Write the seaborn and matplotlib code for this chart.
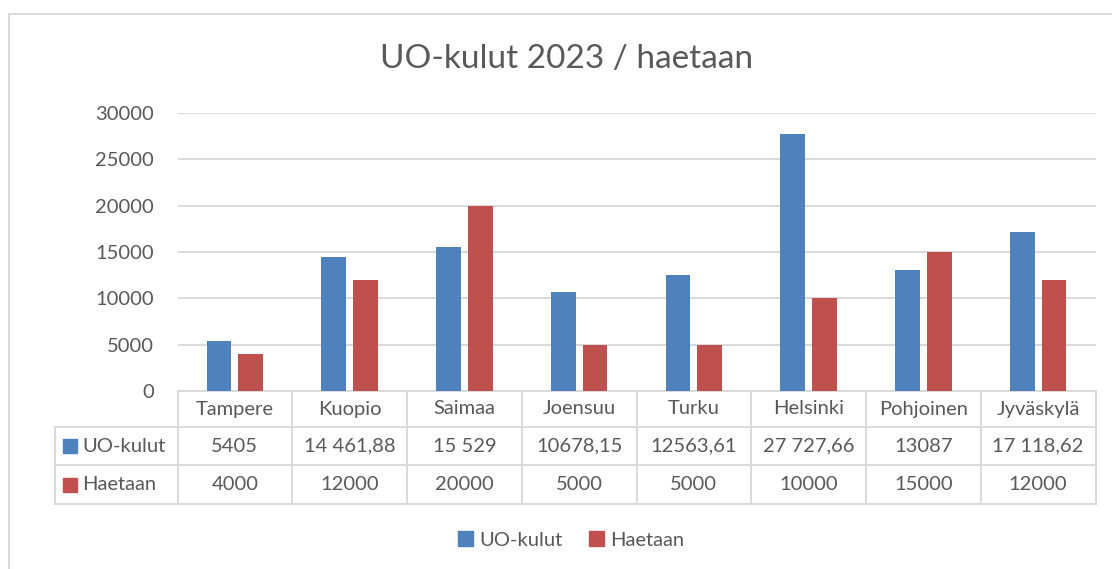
import pandas as pd
import seaborn as sns
import matplotlib.pyplot as plt
from matplotlib.patches import Rectangle
from matplotlib.lines import Line2D
from matplotlib.transforms import blended_transform_factory

# data as shown in the chart's table
kaupungit = ['Tampere', 'Kuopio', 'Saimaa', 'Joensuu', 'Turku', 'Helsinki', 'Pohjoinen', 'Jyväskylä']
uo_kulut_txt = ['5405', '14 461,88', '15 529', '10678,15', '12563,61', '27 727,66', '13087', '17 118,62']
haetaan_txt = ['4000', '12000', '20000', '5000', '5000', '10000', '15000', '12000']
sarjat = ['UO-kulut', 'Haetaan']
y_ticks = [0, 5000, 10000, 15000, 20000, 25000, 30000]

varit = {'UO-kulut': '#4F81BD', 'Haetaan': '#C0504D'}
teksti = '#595959'
viiva = '#D9D9D9'


def to_num(s):
    return float(s.replace(' ', '').replace(',', '.'))


df = pd.DataFrame({
    'kaupunki': kaupungit * 2,
    'sarja': [sarjat[0]] * len(kaupungit) + [sarjat[1]] * len(kaupungit),
    'arvo': [to_num(s) for s in uo_kulut_txt] + [to_num(s) for s in haetaan_txt],
})

sns.set_style('white')
plt.rcParams['font.family'] = ['Lato', 'DejaVu Sans']

W, H = 1112, 569
fig = plt.figure(figsize=(W / 100, H / 100), dpi=100)
ax = fig.add_axes([177.5 / W, 1 - 391 / H, 918 / W, 278 / H])

sns.barplot(data=df, x='kaupunki', y='arvo', hue='sarja', order=kaupungit,
            hue_order=sarjat, palette=varit, saturation=1, width=0.555, gap=0.22,
            linewidth=0, legend=False, ax=ax, zorder=3)

ax.set_xlim(-0.5, len(kaupungit) - 0.5)
ax.set_ylim(0, 30000)
ax.set_yticks(y_ticks)
ax.set_yticklabels([str(t) for t in y_ticks])
ax.yaxis.grid(True, color=viiva, lw=1.4, zorder=0)
ax.tick_params(axis='y', length=0, pad=17, labelsize=14.5, labelcolor=teksti)
ax.set_xticks([])
ax.set_xlabel('')
ax.set_ylabel('')
for s in ax.spines.values():
    s.set_visible(False)

fig.text(567 / W, 1 - 59 / H, 'UO-kulut 2023 / haetaan', ha='center', va='center',
         fontsize=24, color=teksti)

# data table under the plot
tr = blended_transform_factory(ax.transData, fig.transFigure)
n = len(kaupungit)
rivit = [391, 427, 465, 504]
lab_left = -0.5 - (177.5 - 54.6) / 114.75

ax.add_line(Line2D([-0.5, n - 0.5], [1 - rivit[0] / H] * 2, transform=tr,
                   color=viiva, lw=1.4, clip_on=False))
for r in rivit[1:]:
    ax.add_line(Line2D([lab_left, n - 0.5], [1 - r / H] * 2, transform=tr,
                       color=viiva, lw=1.4, clip_on=False))
for i in range(n + 1):
    ax.add_line(Line2D([i - 0.5] * 2, [1 - rivit[0] / H, 1 - rivit[-1] / H], transform=tr,
                       color=viiva, lw=1.4, clip_on=False))
ax.add_line(Line2D([lab_left] * 2, [1 - rivit[1] / H, 1 - rivit[-1] / H], transform=tr,
                   color=viiva, lw=1.4, clip_on=False))

for i, k in enumerate(kaupungit):
    ax.text(i, 1 - 409 / H, k, transform=tr, ha='center', va='center',
            fontsize=14.5, color=teksti)
for j, (nimi, arvot) in enumerate(zip(sarjat, [uo_kulut_txt, haetaan_txt])):
    yc = 1 - (rivit[j + 1] + rivit[j + 2]) / 2 / H
    for i, a in enumerate(arvot):
        ax.text(i, yc, a, transform=tr, ha='center', va='center',
                fontsize=14.5, color=teksti)
    fig.add_artist(Rectangle((63 / W, yc - 7 / H), 14 / W, 14 / H,
                             transform=fig.transFigure, color=varit[nimi]))
    fig.text(82 / W, yc, nimi, ha='left', va='center', fontsize=14.5, color=teksti)

# legend
kahvat = [Rectangle((0, 0), 1, 1, color=varit[s]) for s in sarjat]
fig.legend(kahvat, sarjat, loc='center', bbox_to_anchor=(571 / W, 1 - 540 / H),
           ncol=2, frameon=False, fontsize=14.5, labelcolor=teksti,
           handlelength=0.75, handleheight=0.75, handletextpad=0.3, columnspacing=1.3)

# chart border (cut off on right and bottom)
fig.add_artist(Line2D([8.6 / W, 1], [1 - 14 / H] * 2, transform=fig.transFigure, color=viiva, lw=1.4))
fig.add_artist(Line2D([8.6 / W] * 2, [0, 1 - 14 / H], transform=fig.transFigure, color=viiva, lw=1.4))

fig.savefig('out.png', dpi=100, facecolor='white')
